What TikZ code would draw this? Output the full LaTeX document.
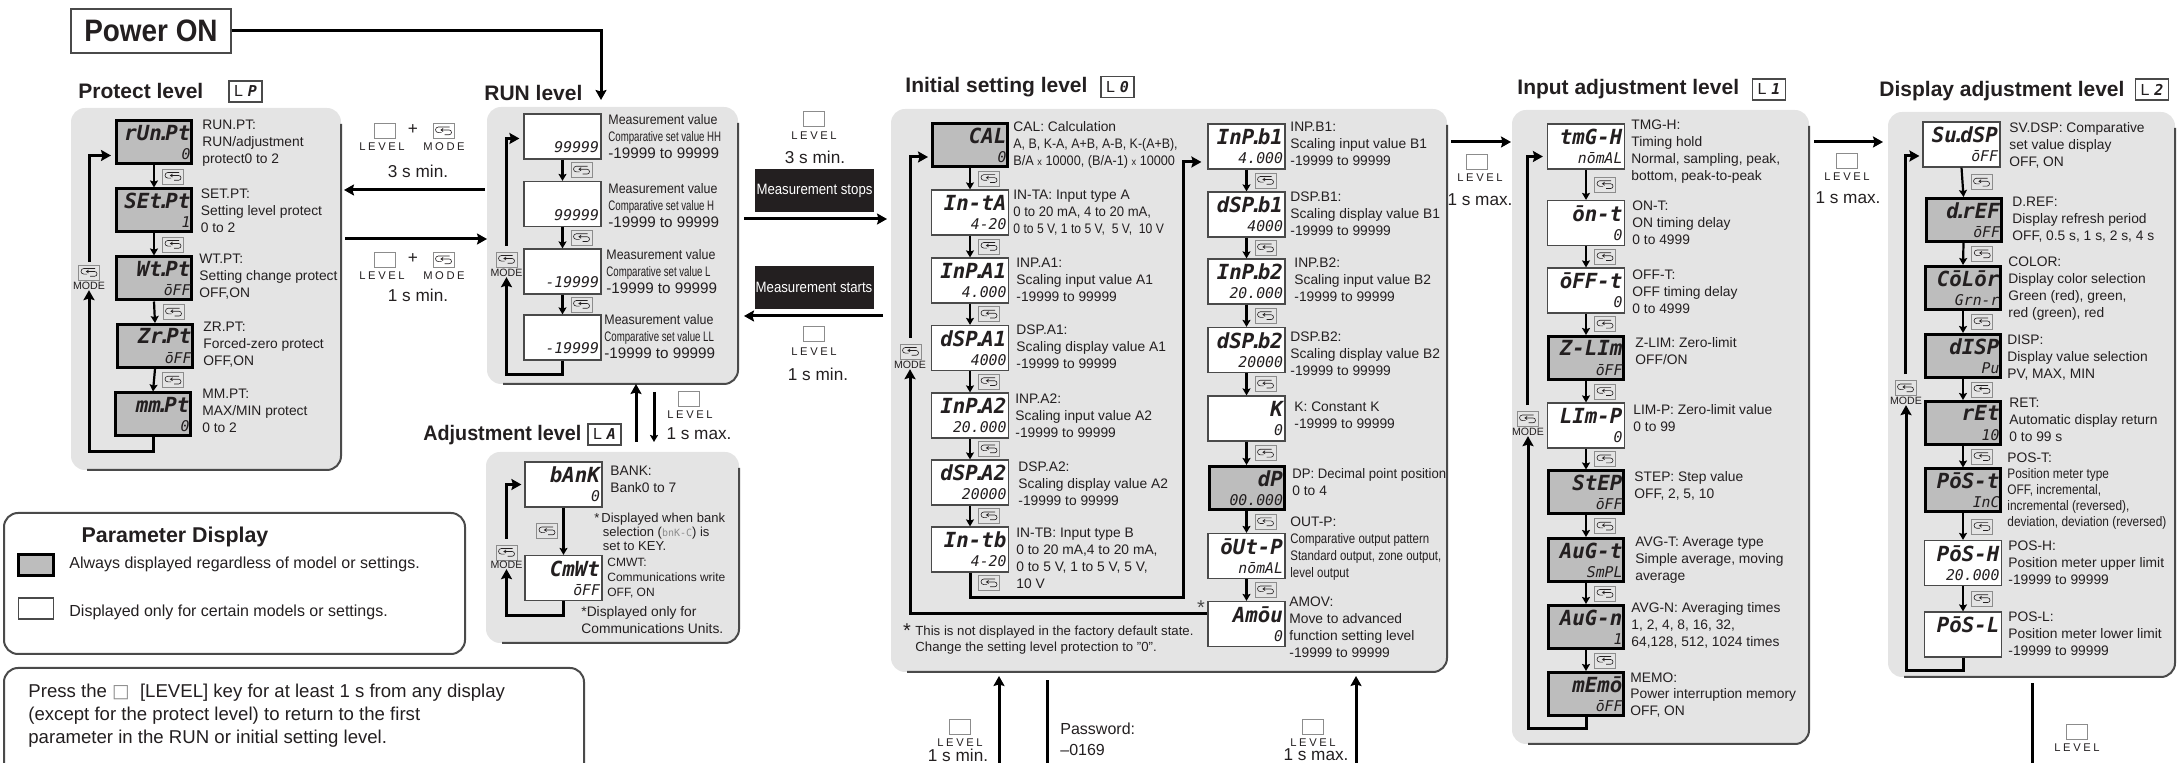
\documentclass[tikz,border=0pt]{standalone}
\usepackage{fontspec}
\setmainfont{Liberation Sans}
\newfontfamily\segfont{DejaVu Sans Mono}
\newfontfamily\lvfont[LetterSpace=23]{Liberation Sans}
\newfontfamily\djvfont{DejaVu Sans}
\usetikzlibrary{arrows.meta,calc,fit}
\definecolor{inkc}{HTML}{231F20}
\definecolor{panelc}{HTML}{E4E4E4}
\definecolor{dispc}{HTML}{BDBDBD}
\definecolor{keyc}{HTML}{8C8C8C}
\definecolor{edgec}{HTML}{4A4A4A}
\newcommand{\vals}{\mdseries\fontsize{7.4}{9.6}\selectfont}
\newcommand{\sdot}{\kern.2pt\makebox[1.6pt][c]{.}}
\newcommand{\cnd}[2]{\scalebox{#1}[1]{#2}}
\newcommand{\runtx}[1]{\cnd{.9}{Measurement value}\\\cnd{.7}{Comparative set value #1}\\{\fontsize{7.6}{8.5}\selectfont -19999 to 99999}}
\tikzset{
  every node/.style={text=inkc},
  dispw/.style={draw=edgec, line width=.6pt, fill=white, minimum width=38.5pt, minimum height=22.5pt,
    text width=36.5pt, align=right, inner sep=0pt, font=\segfont\bfseries\itshape\fontsize{10.4}{9.6}\selectfont},
  dispg/.style={dispw, draw=black, line width=1.5pt, fill=dispc, minimum width=37.5pt, minimum height=21.5pt},
  lbl/.style={anchor=west, align=left, inner sep=0pt, font=\fontsize{6.9}{8.5}\selectfont},
  ttl/.style={anchor=west, inner sep=0pt, font=\bfseries\fontsize{10.5}{12}\selectfont},
  lvlbox/.style={draw=edgec, line width=.6pt, minimum width=16.5pt, minimum height=10.5pt, inner sep=0pt,
    font=\fontsize{8}{8}\selectfont},
  keyb/.style={draw=keyc, line width=.4pt, minimum width=10.5pt, minimum height=7.5pt, inner sep=0pt,
    path picture={\draw[line width=.3pt, inkc, shift={(path picture bounding box.center)}]
      (3pt,2pt) -- (-2.6pt,2pt) arc[start angle=90,end angle=270,radius=1.4pt] -- (-.9pt,-.8pt)
      (-1.3pt,.5pt) -- (2.8pt,.5pt) arc[start angle=90,end angle=-90,radius=1.2pt] -- (.6pt,-1.9pt)
      (-.2pt,1.3pt) -- (-1.3pt,.5pt) -- (-.2pt,-.3pt);}},
  levelk/.style={draw=keyc, line width=.4pt, fill=white, minimum width=10.5pt, minimum height=7.5pt, inner sep=0pt},
  leveltx/.style={inner sep=0pt, font=\lvfont\fontsize{5.6}{6}\selectfont},
  modetx/.style={inner sep=0pt, font=\fontsize{5.3}{6}\selectfont},
  timetx/.style={inner sep=0pt, font=\fontsize{8.6}{10}\selectfont},
  panel/.style={fill=panelc, rounded corners=7pt, inner sep=0pt, outer sep=0pt},
  paneledge/.style={draw=edgec, line width=1pt, rounded corners=7pt},
  bigarrow/.style={-{Stealth[length=5pt,width=5.5pt,inset=.8pt]}, line width=1.5pt, draw=black},
  steparrow/.style={-{Stealth[length=3.5pt,width=4pt,inset=.6pt]}, line width=1.1pt, draw=black},
  noteframe/.style={draw=edgec, line width=1pt, rounded corners=7pt},
  stopbox/.style={fill=inkc, text=white, minimum width=59.5pt, minimum height=21.5pt, inner sep=0pt, font=\fontsize{7.5}{8}\selectfont}
}
\newcommand{\stepkey}[2]{
  \draw[steparrow] (#1.south) -- (#2.north);
  \node[keyb] (#1key) at ($(#1.south)!.5!(#2.north)+(19,0)$) {};
}
\newcommand{\mkpanel}[5]{
  \node[panel, fit={(#2,#3) (#4,#5)}] (#1) {};
  \draw[paneledge] ([yshift=-8pt]#1.north east) -- (#1.south east) -- ([xshift=8pt]#1.south west);
}
\begin{document}
\begin{tikzpicture}[x=.5pt,y=-.5pt]
    \useasboundingbox (0,0) rectangle (2179,763);

    \mkpanel{protpanel}{71}{108}{341}{470}
    \mkpanel{runpanel}{487}{107}{738}{384}
    \mkpanel{adjpanel}{486}{452}{739}{643}
    \mkpanel{initpanel}{891}{109}{1447}{672}
    \mkpanel{inpanel}{1512}{110}{1809}{744}
    \mkpanel{dsppanel}{1888}{112}{2175}{677}

    \node[draw=edgec, line width=.6pt, minimum width=80pt, minimum height=22pt, inner sep=0pt,
      font=\bfseries\fontsize{15.5}{17}\selectfont] (powerbox) at (151,31) {\cnd{.9}{Power ON}};
    \coordinate (runin) at (601,100);
    \draw[bigarrow] (powerbox.east) -| (runin);

    \node[ttl] (prottl) at (78,91) {Protect level};
    \node[lvlbox] (protlvl) at (245.5,91.5) {L\hspace{2.5pt}{\segfont\bfseries\itshape\fontsize{7.5}{8}\selectfont P}};
    \node[dispg] (runpt) at (154,142.5) {rUn\sdot Pt\\\vals 0};
    \node[dispg] (setpt) at (154,210.5) {SEt\sdot Pt\\\vals 1};
    \node[dispg] (wtpt) at (154,278.5) {Wt\sdot Pt\\\vals ōFF};
    \node[dispg] (zrpt) at (155,346) {Zr\sdot Pt\\\vals ōFF};
    \node[dispg] (mmpt) at (153,414.5) {mm\sdot Pt\\\vals 0};
    \node[lbl] (runpttx) at (202,143) {RUN.PT:\\RUN/adjustment\\protect0 to 2};
    \node[lbl] (setpttx) at (200.5,211) {SET.PT:\\Setting level protect\\0 to 2};
    \node[lbl] (wtpttx) at (199,277) {WT.PT:\\Setting change protect\\OFF,ON};
    \node[lbl] (zrpttx) at (203,345) {ZR.PT:\\Forced-zero protect\\OFF,ON};
    \node[lbl] (mmpttx) at (202,411) {MM.PT:\\MAX/MIN protect\\0 to 2};
    \foreach \a/\b in {runpt/setpt,setpt/wtpt,wtpt/zrpt,zrpt/mmpt} {\stepkey{\a}{\b}}
    \node[keyb] (protkey) at (89,272.5) {};
    \node[modetx] (protmode) at (89,286) {MODE};
    \draw[bigarrow] (mmpt.south) -- ++(0,14) -| (protmode.south);
    \draw[bigarrow, shorten >=2pt, shorten <=1.5pt] (protkey.north) |- ([yshift=-6.5pt]runpt.west);

    \node[levelk] (upk1) at (384.5,131) {};
    \node[inner sep=0pt, font=\fontsize{8.6}{9}\selectfont] (upplus) at (413,130) {+};
    \node[keyb] (upk2) at (443.5,131) {};
    \node[leveltx] (uplv1) at (382,147) {LEVEL};
    \node[leveltx] (uplv2) at (444,147) {MODE};
    \node[timetx] (uptime) at (418,171) {3 s min.};
    \node[levelk] (dnk1) at (384.5,260) {};
    \node[inner sep=0pt, font=\fontsize{8.6}{9}\selectfont] (dnplus) at (413,259) {+};
    \node[keyb] (dnk2) at (443.5,260) {};
    \node[leveltx] (dnlv1) at (382,276) {LEVEL};
    \node[leveltx] (dnlv2) at (444,276) {MODE};
    \node[timetx] (dntime) at (418,295) {1 s min.};
    \draw[bigarrow, shorten <=1pt, shorten >=1.5pt] (runpanel.west |- 0,190) -- (protpanel.east |- 0,190);
    \draw[bigarrow, shorten <=2pt] (protpanel.east |- 0,239) -- (runpanel.west |- 0,239);

    \node[ttl] (runttl) at (484,93) {RUN level};
    \node[dispw] (runhh) at (562.5,136.5) {\strut\\\vals 99999};
    \node[dispw] (runh) at (562.5,204) {\strut\\\vals 99999};
    \node[dispw] (runl) at (562.5,271.5) {\strut\\\vals -19999};
    \node[dispw] (runll) at (562.5,337.5) {\strut\\\vals -19999};
    \node[lbl] (runhhtx) at (608,137) {\runtx{HH}};
    \node[lbl] (runhtx) at (608,206) {\runtx{H}};
    \node[lbl] (runltx) at (606,272) {\runtx{L}};
    \node[lbl] (runlltx) at (604,337) {\runtx{LL}};
    \foreach \a/\b in {runhh/runh,runh/runl,runl/runll} {\stepkey{\a}{\b}}
    \node[keyb] (runkey) at (506.5,259.5) {};
    \node[modetx] (runmode) at (506.5,273) {MODE};
    \draw[bigarrow] (runll.south) -- ++(0,14) -| (runmode.south);
    \draw[bigarrow, shorten >=2pt, shorten <=3pt] (runkey.north) |- ([yshift=-1pt]runhh.west);

    \node[levelk] (stopk) at (813.5,119) {};
    \node[leveltx] (stoplv) at (814,136) {LEVEL};
    \node[timetx] (stoptime) at (815,157) {3 s min.};
    \node[stopbox] (stopbx) at (814.5,190.5) {\cnd{.88}{Measurement stops}};
    \draw[bigarrow, shorten <=3pt, shorten >=2pt] (runpanel.east |- 0,219) -- (initpanel.west |- 0,219);
    \node[stopbox] (startbx) at (814,287.5) {\cnd{.88}{Measurement starts}};
    \draw[bigarrow, shorten <=4pt, shorten >=3pt] (initpanel.west |- 0,316) -- (runpanel.east |- 0,316);
    \node[levelk] (startk) at (813.5,334) {};
    \node[leveltx] (startlv) at (814,352) {LEVEL};
    \node[timetx] (starttime) at (818,374) {1 s min.};

    \node[ttl] (adjttl) at (423,435) {\cnd{.94}{Adjustment level}};
    \node[lvlbox] (adjlvl) at (604.5,434.5) {L\hspace{2.5pt}{\segfont\bfseries\itshape\fontsize{7.5}{8}\selectfont A}};
    \draw[bigarrow, shorten <=5pt] (adjpanel.north -| 636,0) -- (runpanel.south -| 636,0);
    \draw[steparrow, line width=1.5pt, shorten <=4pt, shorten >=5pt] (runpanel.south -| 654,0) -- (adjpanel.north -| 654,0);
    \node[levelk] (adjk) at (689,398.5) {};
    \node[leveltx] (adjlv) at (690,415) {LEVEL};
    \node[timetx] (adjtime) at (699,434) {1 s max.};
    \node[dispw] (bank) at (563.5,484.5) {bAnK\\\vals 0};
    \node[dispw] (cmwt) at (563.5,578) {CmWt\\\vals ōFF};
    \node[lbl] (banktx) at (610,479.5) {BANK:\\Bank0 to 7};
    \node[lbl, font=\fontsize{6.5}{7}\selectfont] (banknote) at (594,532) {*\hspace{1pt}Displayed when bank\\\hspace{4.2pt}selection ({\color{keyc}\segfont\fontsize{5}{7}\selectfont bnK-C}) is\\\hspace{4.2pt}set to KEY.};
    \node[lbl, font=\fontsize{6}{7.3}\selectfont] (cmwttx) at (607,578) {CMWT:\\Communications write\\OFF, ON};
    \node[lbl] (cmwtnote) at (581,620.5) {*Displayed only for\\Communications Units.};
    \draw[steparrow] (bank.south) -- (cmwt.north);
    \node[keyb] (bankkey) at (547,531) {};
    \node[keyb] (adjkey) at (506.5,552.5) {};
    \node[modetx] (adjmode) at (506.5,565) {MODE};
    \draw[bigarrow] (cmwt.south) -- ++(0,14) -| (adjmode.south);
    \draw[bigarrow, shorten >=1.5pt, shorten <=3pt] (adjkey.north) |- (bank.west);

    \node[ttl] (initttl) at (905,87) {Initial setting level};
    \node[lvlbox] (initlvl) at (1117.5,87) {L\hspace{2.5pt}{\segfont\bfseries\itshape\fontsize{7.5}{8}\selectfont 0}};
    \node[dispg] (cal) at (970,145) {CAL\\\vals 0};
    \node[dispw] (inta) at (970,212.5) {In-tA\\\vals 4-20};
    \node[dispw] (inpa1) at (970,280.5) {InP\sdot A1\\\vals 4.000};
    \node[dispw] (dspa1) at (970,348) {dSP\sdot A1\\\vals 4000};
    \node[dispw] (inpa2) at (970,415.5) {InP\sdot A2\\\vals 20.000};
    \node[dispw] (dspa2) at (970,482.5) {dSP\sdot A2\\\vals 20000};
    \node[dispw] (intb) at (970,549.5) {In-tb\\\vals 4-20};
    \node[lbl] (caltx) at (1013,144.5) {CAL: Calculation\\\cnd{.9}{A, B, K-A, A+B, A-B, K-(A+B),}\\\cnd{.92}{B/A {\fontsize{5}{8}\selectfont x} 10000, (B/A-1) {\fontsize{5}{8}\selectfont x} 10000}};
    \node[lbl] (intatx) at (1013,213) {IN-TA: Input type A\\\cnd{.95}{0 to 20 mA, 4 to 20 mA,}\\\cnd{.88}{0 to 5 V, 1 to 5 V,~ 5 V,~ 10 V}};
    \node[lbl] (inpa1tx) at (1016,280) {INP.A1:\\Scaling input value A1\\-19999 to 99999};
    \node[lbl] (dspa1tx) at (1016,347) {DSP.A1:\\Scaling display value A1\\-19999 to 99999};
    \node[lbl] (inpa2tx) at (1015,416) {INP.A2:\\Scaling input value A2\\-19999 to 99999};
    \node[lbl] (dspa2tx) at (1018,484) {DSP.A2:\\Scaling display value A2\\-19999 to 99999};
    \node[lbl] (intbtx) at (1016,558.5) {IN-TB: Input type B\\0 to 20 mA,4 to 20 mA,\\0 to 5 V, 1 to 5 V, 5 V,\\10 V};
    \foreach \a/\b in {cal/inta,inta/inpa1,inpa1/dspa1,dspa1/inpa2,inpa2/dspa2,dspa2/intb} {\stepkey{\a}{\b}}
    \node[keyb] (intbkey) at (989,583) {};

    \node[dispw] (inpb1) at (1246.5,146.5) {InP\sdot b1\\\vals 4.000};
    \node[dispw] (dspb1) at (1246.5,214.5) {dSP\sdot b1\\\vals 4000};
    \node[dispw] (inpb2) at (1246.5,281.5) {InP\sdot b2\\\vals 20.000};
    \node[dispw] (dspb2) at (1246.5,350) {dSP\sdot b2\\\vals 20000};
    \node[dispw] (kconst) at (1246.5,418.5) {K\\\vals 0};
    \node[dispg] (dppos) at (1246.5,488) {dP\\\vals 00.000};
    \node[dispw] (outp) at (1246.5,556) {ōUt-P\\\vals nōmAL};
    \node[dispw] (amov) at (1246.5,624) {Amōu\\\vals 0};
    \node[lbl] (inpb1tx) at (1290,144) {INP.B1:\\Scaling input value B1\\-19999 to 99999};
    \node[lbl] (dspb1tx) at (1290,214) {DSP.B1:\\Scaling display value B1\\-19999 to 99999};
    \node[lbl] (inpb2tx) at (1294,280) {INP.B2:\\Scaling input value B2\\-19999 to 99999};
    \node[lbl] (dspb2tx) at (1290,354) {DSP.B2:\\Scaling display value B2\\-19999 to 99999};
    \node[lbl] (kconsttx) at (1294,415.5) {K: Constant K\\-19999 to 99999};
    \node[lbl] (dppostx) at (1292,482.5) {\cnd{.95}{DP: Decimal point position}\\0 to 4};
    \node[lbl] (outptx) at (1290,548.5) {OUT-P:\\\cnd{.83}{Comparative output pattern}\\\cnd{.83}{Standard output, zone output,}\\\cnd{.83}{level output}};
    \node[lbl] (amovtx) at (1289,627.5) {AMOV:\\Move to advanced\\function setting level\\-19999 to 99999};
    \foreach \a/\b in {inpb1/dspb1,dspb1/inpb2,inpb2/dspb2,dspb2/kconst,kconst/dppos,dppos/outp,outp/amov} {\stepkey{\a}{\b}}

    \coordinate (initmid) at (1183,598);
    \draw[bigarrow, shorten >=3pt] (intb.south) |- (initmid) |- ([yshift=-7.75pt]inpb1.west);
    \node[keyb] (initkey) at (910.5,351.5) {};
    \node[modetx] (initmode) at (910,365) {MODE};
    \draw[bigarrow] ([yshift=5pt]amov.west) -| (initmode.south);
    \draw[bigarrow, shorten >=1.5pt, shorten <=3pt] (initkey.north) |- ([yshift=-6pt]cal.west);
    \node[inner sep=0pt, text=edgec, font=\fontsize{10}{10}\selectfont] (amovstar) at (1201,608) {*};
    \node[inner sep=0pt, font=\fontsize{10}{10}\selectfont] (notestar) at (907,631) {*};
    \node[lbl, font=\fontsize{6.6}{8.2}\selectfont] (factnote) at (915,640) {This is not displayed in the factory default state.\\Change the setting level protection to "0".};

    \coordinate (lowa) at (999,763);
    \draw[bigarrow, shorten >=2pt] (lowa) -- (lowa |- initpanel.south);
    \coordinate (lowb) at (1047,763);
    \draw[line width=1.5pt, shorten >=4pt] (lowb) -- (lowb |- initpanel.south);
    \coordinate (lowc) at (1356,763);
    \draw[bigarrow, shorten >=2pt] (lowc) -- (lowc |- initpanel.south);
    \node[levelk] (lowk1) at (959.5,726.5) {};
    \node[leveltx] (lowlv1) at (960,743) {LEVEL};
    \node[timetx] (lowt1) at (958,755) {1 s min.};
    \node[lbl, font=\fontsize{8}{10.3}\selectfont] (passtx) at (1060,739.5) {Password:\\--0169};
    \node[levelk] (lowk2) at (1313,726.5) {};
    \node[leveltx] (lowlv2) at (1313,743) {LEVEL};
    \node[timetx] (lowt2) at (1316,755) {1 s max.};

    \draw[bigarrow, shorten <=2pt, shorten >=.5pt] (initpanel.east |- 0,142) -- (inpanel.west |- 0,142);
    \node[levelk] (initk) at (1476.5,161.5) {};
    \node[leveltx] (initlv) at (1480,178) {LEVEL};
    \node[timetx] (inittime) at (1480,200) {1 s max.};

    \node[ttl] (inttl) at (1517,89) {Input adjustment level};
    \node[lvlbox] (inlvl) at (1769,89.5) {L\hspace{2.5pt}{\segfont\bfseries\itshape\fontsize{7.5}{8}\selectfont 1}};
    \node[dispw] (tmgh) at (1586,146.5) {tmG-H\\\vals nōmAL};
    \node[dispw] (ont) at (1586,223) {ōn-t\\\vals 0};
    \node[dispw] (offt) at (1586,290.5) {ōFF-t\\\vals 0};
    \node[dispg] (zlim) at (1586,358) {Z-LIm\\\vals ōFF};
    \node[dispw] (limp) at (1586,425.5) {LIm-P\\\vals 0};
    \node[dispg] (stepv) at (1586,492.5) {StEP\\\vals ōFF};
    \node[dispg] (avgt) at (1586,560) {AuG-t\\\vals SmPL};
    \node[dispg] (avgn) at (1586,627) {AuG-n\\\vals 1};
    \node[dispg] (memo) at (1586,694) {mEmō\\\vals ōFF};
    \node[lbl] (tmghtx) at (1631,151.5) {TMG-H:\\Timing hold\\Normal, sampling, peak,\\bottom, peak-to-peak};
    \node[lbl] (onttx) at (1632,222.5) {ON-T:\\ON timing delay\\0 to 4999};
    \node[lbl] (offttx) at (1632,292) {OFF-T:\\OFF timing delay\\0 to 4999};
    \node[lbl] (zlimtx) at (1635,351.5) {Z-LIM: Zero-limit\\OFF/ON};
    \node[lbl] (limptx) at (1633,418.5) {LIM-P: Zero-limit value\\0 to 99};
    \node[lbl] (steptx) at (1634,485.5) {STEP: Step value\\OFF, 2, 5, 10};
    \node[lbl] (avgttx) at (1635,560) {AVG-T: Average type\\Simple average, moving\\average};
    \node[lbl] (avgntx) at (1631,625) {AVG-N: Averaging times\\1, 2, 4, 8, 16, 32,\\64,128, 512, 1024 times};
    \node[lbl, font=\fontsize{6.9}{8.1}\selectfont] (memotx) at (1630,695) {MEMO:\\Power interruption memory\\OFF, ON};
    \foreach \a/\b in {tmgh/ont,ont/offt,offt/zlim,zlim/limp,limp/stepv,stepv/avgt,avgt/avgn,avgn/memo} {\stepkey{\a}{\b}}
    \node[keyb] (inkey) at (1527.5,419) {};
    \node[modetx] (inmode) at (1528,432) {MODE};
    \draw[bigarrow] (memo.south) -- ++(0,12) -| (inmode.south);
    \draw[bigarrow, shorten >=2pt, shorten <=3pt] (inkey.north) |- ([yshift=-5pt]tmgh.west);

    \draw[bigarrow, shorten <=2.5pt, shorten >=2.5pt] (inpanel.east |- 0,142) -- (dsppanel.west |- 0,142);
    \node[levelk] (ink) at (1847,161) {};
    \node[leveltx] (inlv) at (1847,177) {LEVEL};
    \node[timetx] (intime) at (1848,198) {1 s max.};

    \node[ttl] (dspttl) at (1879,91) {Display adjustment level};
    \node[lvlbox] (dsplvl) at (2152,89.5) {L\hspace{2.5pt}{\segfont\bfseries\itshape\fontsize{7.5}{8}\selectfont 2}};
    \node[dispw] (svdsp) at (1961.5,144.5) {Su\sdot dSP\\\vals ōFF};
    \node[dispg] (dref) at (1963.5,220) {d\sdot rEF\\\vals ōFF};
    \node[dispg] (colorp) at (1963,288) {CōLōr\\\vals Grn-r};
    \node[dispg] (dispp) at (1963,356) {dISP\\\vals Pu};
    \node[dispg] (ret) at (1963,423) {rEt\\\vals 10};
    \node[dispg] (post) at (1963,490.5) {PōS-t\\\vals InC};
    \node[dispw] (posh) at (1963,563) {PōS-H\\\vals 20.000};
    \node[dispw] (posl) at (1963,634.5) {PōS-L\\\vals ~};
    \node[lbl] (svdsptx) at (2009,145) {SV.DSP: Comparative\\set value display\\OFF, ON};
    \node[lbl] (dreftx) at (2012,220) {D.REF:\\Display refresh period\\OFF, 0.5 s, 1 s, 2 s, 4 s};
    \node[lbl] (colortx) at (2008,288.5) {COLOR:\\Display color selection\\Green (red), green,\\red (green), red};
    \node[lbl] (disptx) at (2007,358) {DISP:\\Display value selection\\PV, MAX, MIN};
    \node[lbl] (rettx) at (2009,420) {RET:\\Automatic display return\\0 to 99 s};
    \node[lbl, font=\fontsize{6.9}{8}\selectfont] (posttx) at (2007,491) {POS-T:\\\cnd{.86}{Position meter type}\\\cnd{.86}{OFF, incremental,}\\\cnd{.86}{incremental (reversed),}\\\cnd{.86}{deviation, deviation (reversed)}};
    \node[lbl] (poshtx) at (2008,563) {POS-H:\\Position meter upper limit\\-19999 to 99999};
    \node[lbl] (posltx) at (2008,633.5) {POS-L:\\Position meter lower limit\\-19999 to 99999};
    \foreach \a/\b in {svdsp/dref,dref/colorp,colorp/dispp,dispp/ret,ret/post,post/posh,posh/posl} {\stepkey{\a}{\b}}
    \node[keyb] (dspkey) at (1905.5,388) {};
    \node[modetx] (dspmode) at (1906,401) {MODE};
    \draw[bigarrow] (posl.south) -- ++(0,13) -| (dspmode.south);
    \draw[bigarrow, shorten >=1.5pt, shorten <=3pt] (dspkey.north) |- ([yshift=-5.75pt]svdsp.west);

    \coordinate (lowd) at (2032,763);
    \draw[line width=1.5pt, shorten >=3pt] (lowd) -- (lowd |- dsppanel.south);
    \node[levelk] (lowk3) at (2077,732) {};
    \node[leveltx] (lowlv3) at (2077,748) {LEVEL};

    \node[noteframe, minimum width=230.5pt, minimum height=70.5pt, inner sep=0pt] (paramframe) at (234.5,583.5) {};
    \node[inner sep=0pt, font=\bfseries\fontsize{10.7}{12}\selectfont] (paramttl) at (175,537) {Parameter Display};
    \node[draw=black, line width=1.5pt, fill=dispc, minimum width=17.5pt, minimum height=10.5pt, inner sep=0pt] (swatchg) at (36,565) {};
    \node[draw=edgec, line width=.6pt, fill=white, minimum width=17.5pt, minimum height=10.5pt, inner sep=0pt] (swatchw) at (36,608.5) {};
    \node[lbl, font=\fontsize{8}{9}\selectfont] (swatchgtx) at (69,564) {Always displayed regardless of model or settings.};
    \node[lbl, font=\fontsize{8}{9}\selectfont] (swatchwtx) at (69,612) {Displayed only for certain models or settings.};
    \draw[noteframe] (4,763) -- (4,668) -- (584,668) -- (584,763);
    \node[lbl, font=\fontsize{9.3}{11.5}\selectfont] (presstx) at (28,716) {Press the {\color{keyc}\djvfont □}\ \ [LEVEL] key for at least 1 s from any display\\(except for the protect level) to return to the first\\parameter in the RUN or initial setting level.};
\end{tikzpicture}
\end{document}
